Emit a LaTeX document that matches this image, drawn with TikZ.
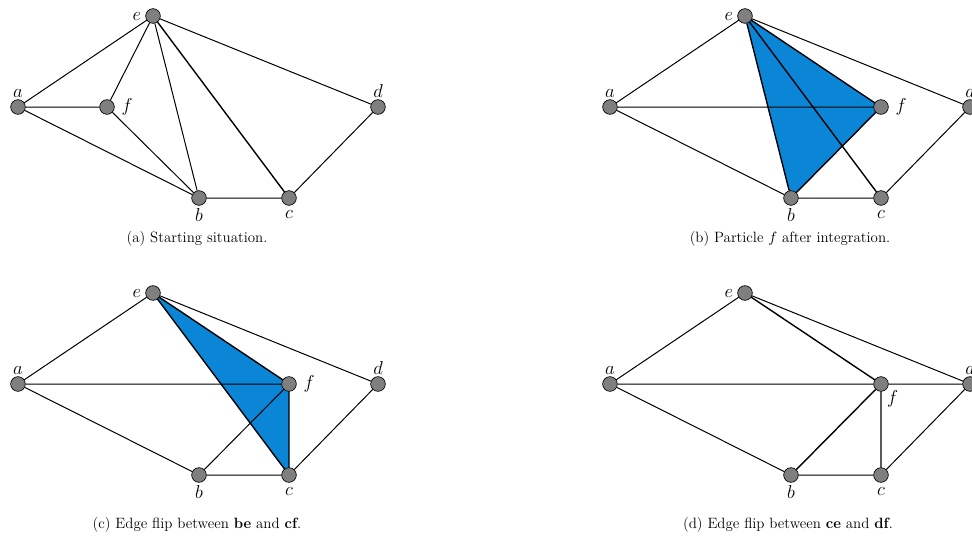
\RequirePackage{fix-cm}
\documentclass[tikz,border=0pt]{standalone}
\usetikzlibrary{backgrounds}
\definecolor{nodegrey}{HTML}{7F7F7F}
\definecolor{triblue}{HTML}{0B86D6}

\begin{document}
\begin{tikzpicture}[x=0.75pt, y=-0.75pt]
  % one unit = one pixel of the 972x539 sheet, y running down
  \useasboundingbox (0,0) rectangle (972,539);
  \tikzset{
    pt/.style={circle, draw=black, fill=nodegrey, line width=0.5pt,
               minimum size=11pt, inner sep=0pt},
    lab/.style={font=\fontsize{14}{14}\selectfont, inner sep=1pt},
    edge/.style={line width=0.75pt},
    flip/.style={line width=1.05pt},
    tri/.style={fill=triblue},
    caption/.style={font=\fontsize{11.2}{13}\selectfont}}

  % ========== (a) the starting triangulation ==========
  \begin{scope}[name prefix=pa-]
    \node[pt, label={[lab, label distance=0.5pt]above:$a$}] (a) at (18,107) {};
    \node[pt, label={[lab, label distance=4pt]right:$f$}]   (f) at (107,107) {};
    \node[pt, label={[lab, label distance=2pt]left:$e$}]    (e) at (153,16) {};
    \node[pt, label={[lab, label distance=0.5pt]above:$d$}] (d) at (378,107) {};
    \node[pt, label={[lab, label distance=1pt]below:$b$}]   (b) at (199,198) {};
    \node[pt, label={[lab, label distance=2.5pt]below:$c$}] (c) at (289,198) {};
    \draw[edge] (a) -- (e) (a) -- (f) (a) -- (b) (f) -- (e) (f) -- (b)
                (e) -- (b) (e) -- (d) (b) -- (c) (c) -- (d);
    \draw[flip] (e) -- (c);
    \node[caption] (cap) at (197,239) {(a) Starting situation.};
  \end{scope}

  % ========== (b) f has moved past the edge ce ==========
  \begin{scope}[shift={(592,0)}, name prefix=pb-]
    \node[pt, label={[lab, label distance=0.5pt]above:$a$}] (a) at (18,107) {};
    \node[pt, label={[lab, label distance=4pt]right:$f$}]   (f) at (289,107) {};
    \node[pt, label={[lab, label distance=2pt]left:$e$}]    (e) at (153,16) {};
    \node[pt, label={[lab, label distance=0.5pt]above:$d$}] (d) at (378,107) {};
    \node[pt, label={[lab, label distance=1pt]below:$b$}]   (b) at (199,198) {};
    \node[pt, label={[lab, label distance=2.5pt]below:$c$}] (c) at (289,198) {};
    \begin{scope}[on background layer]
      \fill[tri] (e.center) -- (b.center) -- (f.center) -- cycle;
    \end{scope}
    \draw[edge] (a) -- (e) (a) -- (f) (a) -- (b) (e) -- (d) (b) -- (c) (c) -- (d);
    \draw[flip] (e) -- (b) (b) -- (f) (f) -- (e) (e) -- (c);
    \node[caption] (cap) at (198,239) {(b) Particle $f$ after integration.};
  \end{scope}

  % ========== (c) be flipped into cf ==========
  \begin{scope}[shift={(0,277)}, name prefix=pc-]
    \node[pt, label={[lab, label distance=0.5pt]above:$a$}] (a) at (18,107) {};
    \node[pt, label={[lab, label distance=4pt]right:$f$}]   (f) at (289,107) {};
    \node[pt, label={[lab, label distance=2pt]left:$e$}]    (e) at (153,16) {};
    \node[pt, label={[lab, label distance=0.5pt]above:$d$}] (d) at (378,107) {};
    \node[pt, label={[lab, label distance=1pt]below:$b$}]   (b) at (199,198) {};
    \node[pt, label={[lab, label distance=2.5pt]below:$c$}] (c) at (289,198) {};
    \begin{scope}[on background layer]
      \fill[tri] (e.center) -- (f.center) -- (c.center) -- cycle;
    \end{scope}
    \draw[edge] (a) -- (e) (a) -- (f) (a) -- (b) (e) -- (d) (b) -- (c) (c) -- (d)
                (b) -- (f);
    \draw[flip] (e) -- (f) (f) -- (c) (c) -- (e);
    \node[caption] (cap) at (197,248) {(c) Edge flip between \textbf{be} and \textbf{cf}.};
  \end{scope}

  % ========== (d) ce flipped into df ==========
  \begin{scope}[shift={(592,277)}, name prefix=pd-]
    \node[pt, label={[lab, label distance=0.5pt]above:$a$}] (a) at (18,107) {};
    \node[pt, label={[lab, label distance=-1pt]below right:$f$}] (f) at (289,107) {};
    \node[pt, label={[lab, label distance=2pt]left:$e$}]    (e) at (153,16) {};
    \node[pt, label={[lab, label distance=0.5pt]above:$d$}] (d) at (378,107) {};
    \node[pt, label={[lab, label distance=1pt]below:$b$}]   (b) at (199,198) {};
    \node[pt, label={[lab, label distance=2.5pt]below:$c$}] (c) at (289,198) {};
    \draw[edge] (a) -- (e) (a) -- (f) (a) -- (b) (e) -- (d) (b) -- (c) (c) -- (d)
                (f) -- (d);
    \draw[flip] (e) -- (f) (f) -- (b) (f) -- (c);
    \node[caption] (cap) at (196,248) {(d) Edge flip between \textbf{ce} and \textbf{df}.};
  \end{scope}
\end{tikzpicture}
\end{document}
